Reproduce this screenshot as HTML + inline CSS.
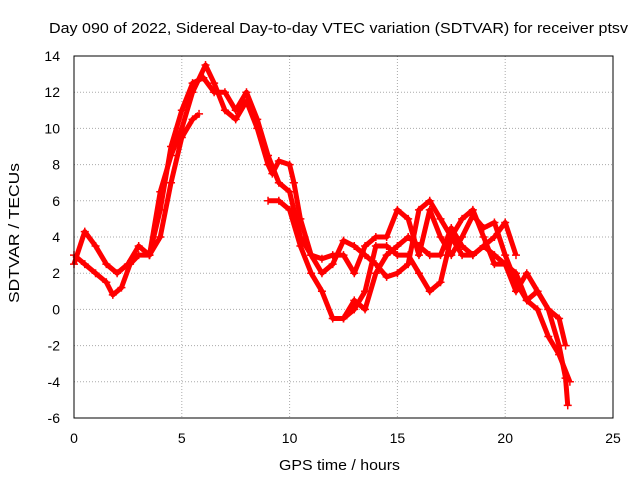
<!DOCTYPE html>
<html><head><meta charset="utf-8"><style>
body{margin:0;background:#fff;width:640px;height:480px;overflow:hidden}
text{font-family:"Liberation Sans",sans-serif;font-size:14px;fill:#000}
</style></head><body>
<svg id="c" width="640" height="480">
<text x="49" y="33" textLength="579" lengthAdjust="spacingAndGlyphs" style="font-size:15px">Day 090 of 2022, Sidereal Day-to-day VTEC variation (SDTVAR) for receiver ptsv</text>
<text x="279" y="470" textLength="121" lengthAdjust="spacingAndGlyphs" style="font-size:15px">GPS time / hours</text>
<text transform="translate(19,303) rotate(-90)" textLength="140" lengthAdjust="spacingAndGlyphs" style="font-size:15px">SDTVAR / TECUs</text>
<g id="grid"></g><g id="series"></g>
<rect x="74" y="56" width="539" height="362" fill="none" stroke="#000"/>
</svg>
<script>
const xTicks=[0,5,10,15,20,25];
const yTicks=[-6,-4,-2,0,2,4,6,8,10,12,14];
const trackA=[[0,2.5],[0.5,4.3],[1,3.5],[1.5,2.5],[2,2],[2.5,2.5],[3,3.5],[3.5,3],[4,5.5],[4.5,9],[5,11],[5.5,12.5],[6,12.8],[6.5,12],[7,12],[7.5,11],[8,12],[8.5,10.5],[9,8.5],[9.5,7],[10,6.5],[10.5,4],[11,3],[11.5,2.8],[12,3],[12.5,3],[13,2],[13.5,3.5],[14,4],[14.5,4],[15,5.5],[15.5,5],[16,3],[16.5,5.5],[17,4],[17.5,3],[18,4],[18.5,5.2],[19,4.5],[19.5,4.8],[20,3],[20.5,1.5],[21,0.5],[21.5,1],[22,0],[22.5,-0.5],[22.8,-2]];
const trackB=[[0,3],[0.5,2.5],[1,2],[1.5,1.5],[1.8,0.8],[2.2,1.2],[2.6,2.5],[3,3],[3.5,3],[4,6.5],[4.5,8.5],[5,10],[5.5,12],[6.1,13.5],[6.5,12.5],[7,11],[7.5,10.5],[8,11.5],[8.5,10],[9,8],[9.2,7.5],[9.5,8.2],[10,8],[10.2,7],[10.5,5],[11,3],[11.5,2],[12,2.5],[12.5,3.8],[13,3.5],[13.5,3],[14,2.5],[14.5,1.8],[15,2],[15.5,2.5],[16,5.5],[16.5,6],[17,5],[17.5,4],[18,3],[18.5,3],[19,3.5],[19.5,3],[20,2.5],[20.5,1],[21,2],[21.5,1],[22,0],[22.5,-2],[22.8,-3.8],[22.9,-5.3]];
const trackC=[[3.5,3],[4,4],[4.5,7],[5,9.5],[5.5,10.5],[5.8,10.8]];
const trackD=[[9,6],[9.5,6],[10,5.5],[10.5,3.5],[11,2],[11.5,1],[12,-0.5],[12.5,-0.5],[13,0],[13.5,1],[14,3.5],[14.5,3.5],[15,3],[15.5,3],[16,2],[16.5,1],[17,1.5],[17.5,4],[18,5],[18.5,5.5],[19,4],[19.5,2.5],[20,2.5],[20.5,2],[21,0.5],[21.5,0],[22,-1.5],[22.5,-2.5],[23,-4]];
const trackE=[[12.5,-0.5],[13,0.5],[13.5,0],[14,2],[14.5,3],[15,3.5],[15.5,4],[16,3.5],[16.5,3],[17,3],[17.5,4.5],[18,3.5],[18.5,3],[19,3.5],[19.5,4],[20,4.8],[20.5,3]];
const tracks=[trackA,trackB,trackC,trackD,trackE];
const X=v=>74+v*539/25, Y=v=>418-(v+6)*362/20;
const NS="http://www.w3.org/2000/svg";
const g=document.getElementById('grid'), s=document.getElementById('series');
xTicks.forEach(t=>{
 const l=document.createElementNS(NS,'line');
 
 
 l.setAttribute('x1',X(t));l.setAttribute('x2',X(t));l.setAttribute('y1',56);l.setAttribute('y2',418);
 l.setAttribute('stroke','#aaa');l.setAttribute('stroke-dasharray','1,2');g.appendChild(l);
 const tx=document.createElementNS(NS,'text');
 
 
 tx.setAttribute('x',X(t));tx.setAttribute('y',443);tx.setAttribute('text-anchor','middle');tx.textContent=t;g.appendChild(tx);
});
yTicks.forEach(t=>{
 const l=document.createElementNS(NS,'line');
 
 
 l.setAttribute('x1',74);l.setAttribute('x2',613);l.setAttribute('y1',Y(t));l.setAttribute('y2',Y(t));
 l.setAttribute('stroke','#aaa');l.setAttribute('stroke-dasharray','1,2');g.appendChild(l);
 const tx=document.createElementNS(NS,'text');
 
 
 tx.setAttribute('x',60);tx.setAttribute('y',Y(t)+5);tx.setAttribute('text-anchor','end');tx.textContent=t;g.appendChild(tx);
});
tracks.forEach(tr=>{
 const p=document.createElementNS(NS,'path');
 
 
 p.setAttribute('d',tr.map((d,i)=>(i?'L':'M')+X(d[0])+','+Y(d[1])).join(''));
 p.setAttribute('fill','none');p.setAttribute('stroke','#f00');p.setAttribute('stroke-width','5');p.setAttribute('stroke-linejoin','round');
 s.appendChild(p);
 tr.forEach(d=>{
  const m=document.createElementNS(NS,'path');
  
  
  const x=X(d[0]),y=Y(d[1]);
  m.setAttribute('d',`M${x-4},${y}H${x+4}M${x},${y-4}V${y+4}`);
  m.setAttribute('stroke','#f00');m.setAttribute('stroke-width','1.5');s.appendChild(m);
 });
});
</script>
</body></html>
